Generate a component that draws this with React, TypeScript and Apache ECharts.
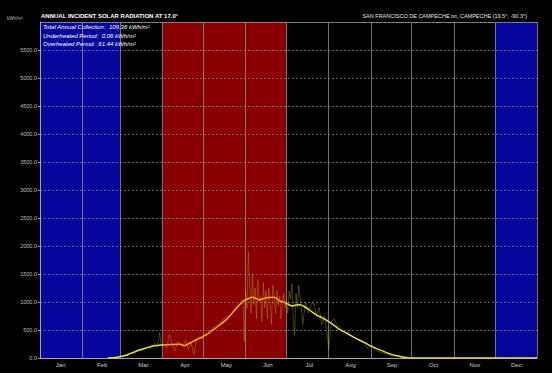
import React, { useEffect, useRef } from "react";
import * as echarts from "echarts";

const months = ["Jan", "Feb", "Mar", "Apr", "May", "Jun", "Jul", "Aug", "Sep", "Oct", "Nov", "Dec"];
const monthStarts = [0, 31, 59, 90, 120, 151, 181, 212, 243, 273, 304, 334, 365];
const underheatedRanges: [number, number][] = [[0, 59], [334, 365]];
const overheatedRanges: [number, number][] = [[90, 181]];

const titleText = "ANNUAL INCIDENT SOLAR RADIATION AT 17.0°";
const locationText = "SAN FRANCISCO DE CAMPECHE.txt, CAMPECHE (19.5°, -90.3°)";
const infoLines = [
  "Total Annual Collection:  109.36 kWh/m²",
  "Underheated Period:  0.06 kWh/m²",
  "Overheated Period:  61.44 kWh/m²",
];
const unitLabel = "kWh/m²";

// smoothed (averaged) radiation [day of year, kWh/m²]
const smoothed: [number, number][] = [
  [50, 0], [54, 5], [57, 15], [60, 30], [64, 54], [68, 95], [73, 143], [78, 180], [83, 214],
  [90, 232], [96, 240], [103, 244], [106, 220], [109, 255], [112, 292], [117, 350],
  [122, 411], [127, 500], [132, 589], [137, 690], [141, 797], [144, 880], [147, 960],
  [150, 1030], [152, 1050], [156, 1083], [159, 1060], [161, 1040], [164, 1060], [166, 1075],
  [171, 1083], [174, 1060], [176, 1020], [179, 1000], [181, 976], [183, 950], [185, 930],
  [188, 945], [191, 950], [194, 920], [196, 890], [200, 820], [203, 770], [207, 720],
  [210, 680], [215, 600], [220, 510], [226, 430], [232, 351], [238, 280], [244, 203],
  [250, 140], [256, 83], [262, 40], [270, 6], [280, 0], [300, 2], [310, 0], [365, 0],
];

// daily radiation [day of year, kWh/m²]
const daily: [number, number][] = [
  [50, 0], [55, 10], [60, 30], [63, 60], [66, 90], [69, 80], [72, 150], [75, 130], [78, 190],
  [81, 170], [84, 260], [86, 200], [88, 450], [89, 230], [91, 240], [93, 180], [95, 420],
  [97, 260], [99, 120], [101, 300], [103, 250], [105, 200], [107, 330], [109, 150], [111, 270],
  [113, 60], [115, 350], [117, 380], [119, 330], [121, 420], [123, 450], [125, 480], [127, 540],
  [129, 560], [131, 600], [133, 640], [135, 700], [137, 740], [139, 760], [141, 800], [143, 880],
  [145, 930], [147, 1000], [149, 1050], [150, 300], [151, 1200], [152, 900], [153, 1900],
  [154, 1300], [155, 800], [156, 1500], [157, 950], [158, 1250], [159, 700], [160, 1400],
  [161, 1000], [162, 1100], [163, 650], [164, 1350], [165, 900], [166, 1200], [167, 700],
  [168, 1250], [169, 1000], [170, 600], [171, 1300], [172, 1100], [173, 800], [174, 1200],
  [175, 950], [176, 1100], [177, 700], [178, 1000], [179, 1150], [180, 900], [181, 1050],
  [182, 800], [183, 1200], [184, 1050], [185, 1330], [186, 700], [187, 400], [188, 1150],
  [189, 900], [190, 1300], [191, 1100], [193, 600], [195, 1000], [197, 800], [199, 950],
  [201, 1000], [203, 750], [205, 900], [207, 600], [209, 750], [211, 400], [212, 150],
  [214, 650], [216, 700], [218, 600], [220, 560], [222, 500], [224, 450], [226, 470],
  [228, 400], [230, 380], [232, 340], [234, 320], [236, 300], [238, 280], [240, 180],
  [242, 200], [244, 230], [246, 150], [248, 120], [250, 100], [252, 90], [254, 70], [256, 60],
  [258, 40], [260, 30], [262, 50], [264, 20], [266, 10], [270, 5], [275, 0], [365, 0],
];

const Y_MAX = 6000;
const Y_STEP = 500;

export default function App() {
  const ref = useRef<HTMLDivElement>(null);
  useEffect(() => {
    if (!ref.current) return;
    const chart = echarts.init(ref.current, null, { renderer: "svg" });
    const font = "Liberation Sans";
    const areas: any[] = [];
    underheatedRanges.forEach(([a, b]) =>
      areas.push([{ xAxis: a, itemStyle: { color: "#06069c" } }, { xAxis: b }])
    );
    overheatedRanges.forEach(([a, b]) =>
      areas.push([{ xAxis: a, itemStyle: { color: "#880000" } }, { xAxis: b }])
    );
    chart.setOption({
      animation: false,
      backgroundColor: "#000",
      textStyle: { fontFamily: font },
      grid: { left: 40, right: 15, top: 22, bottom: 15, show: false },
      xAxis: [
        { type: "value", min: 0, max: 365, show: false },
        {
          type: "category",
          data: months,
          position: "bottom",
          boundaryGap: true,
          axisLine: { show: true, lineStyle: { color: "#aaaaaa", width: 1 } },
          axisTick: { show: false },
          splitLine: { show: false },
          axisLabel: { color: "#cccccc", fontSize: 6, margin: 4, fontFamily: font },
          z: 6,
        },
      ],
      yAxis: {
        type: "value",
        min: 0,
        max: Y_MAX,
        interval: Y_STEP,
        z: 3,
        axisLine: { show: true, lineStyle: { color: "#a0a0c8", width: 1 } },
        axisTick: { show: true, length: 2, lineStyle: { color: "#888" } },
        axisLabel: {
          color: "#bbbbbb",
          fontSize: 5.5,
          margin: 3,
          showMaxLabel: false,
          fontFamily: font,
          formatter: (v: number) => v.toFixed(1),
        },
        splitLine: {
          show: true,
          lineStyle: { color: "rgba(140,140,140,0.7)", type: [2, 2], width: 1 },
        },
      },
      visualMap: {
        show: false,
        type: "piecewise",
        dimension: 0,
        seriesIndex: 3,
        pieces: [
          { lt: 90, color: "#e2e23c" },
          { gte: 90, lt: 181, color: "#f4a632" },
          { gte: 181, color: "#e2e23c" },
        ],
      },
      series: [
        {
          type: "line",
          data: [[0, 0]],
          showSymbol: false,
          lineStyle: { opacity: 0 },
          silent: true,
          z: 1,
          markArea: { silent: true, data: areas },
        },
        {
          type: "line",
          data: [[0, 0]],
          showSymbol: false,
          lineStyle: { opacity: 0 },
          silent: true,
          z: 4,
          markLine: {
            silent: true,
            symbol: "none",
            label: { show: false },
            lineStyle: { color: "rgba(150,150,150,0.75)", type: "solid", width: 1 },
            data: [
              ...monthStarts.slice(1, 12).map((d) => ({ xAxis: d })),
              { xAxis: 365 },
              { yAxis: Y_MAX },
            ],
          },
        },
        {
          type: "line",
          data: daily,
          showSymbol: false,
          z: 5,
          lineStyle: { color: "rgba(200,180,40,0.35)", width: 1 },
        },
        {
          type: "line",
          data: smoothed,
          showSymbol: false,
          smooth: 0.2,
          z: 6,
          lineStyle: { width: 1.5 },
        },
      ],
      graphic: [
        {
          type: "text",
          left: 41,
          top: 13,
          z: 10,
          style: { text: titleText, fill: "#ffffff", font: `bold 6px ${font}` },
        },
        {
          type: "text",
          right: 25,
          top: 13,
          z: 10,
          style: { text: locationText, fill: "#e6e6e6", font: `5.5px ${font}` },
        },
        {
          type: "text",
          left: 7,
          top: 16,
          z: 10,
          style: { text: unitLabel, fill: "#bbbbbb", font: `4.5px ${font}` },
        },
        ...infoLines.map((t, i) => ({
          type: "text",
          left: 43,
          top: 24 + i * 8.5,
          z: 10,
          style: { text: t, fill: "#ffffff", font: `italic 6px ${font}` },
        })),
      ],
    });
    return () => chart.dispose();
  }, []);
  return (
    <div
      style={{ position: "fixed", left: 0, top: 0, width: 552, height: 373, background: "#000" }}
    >
      <div ref={ref} style={{ width: 552, height: 373 }} />
    </div>
  );
}
